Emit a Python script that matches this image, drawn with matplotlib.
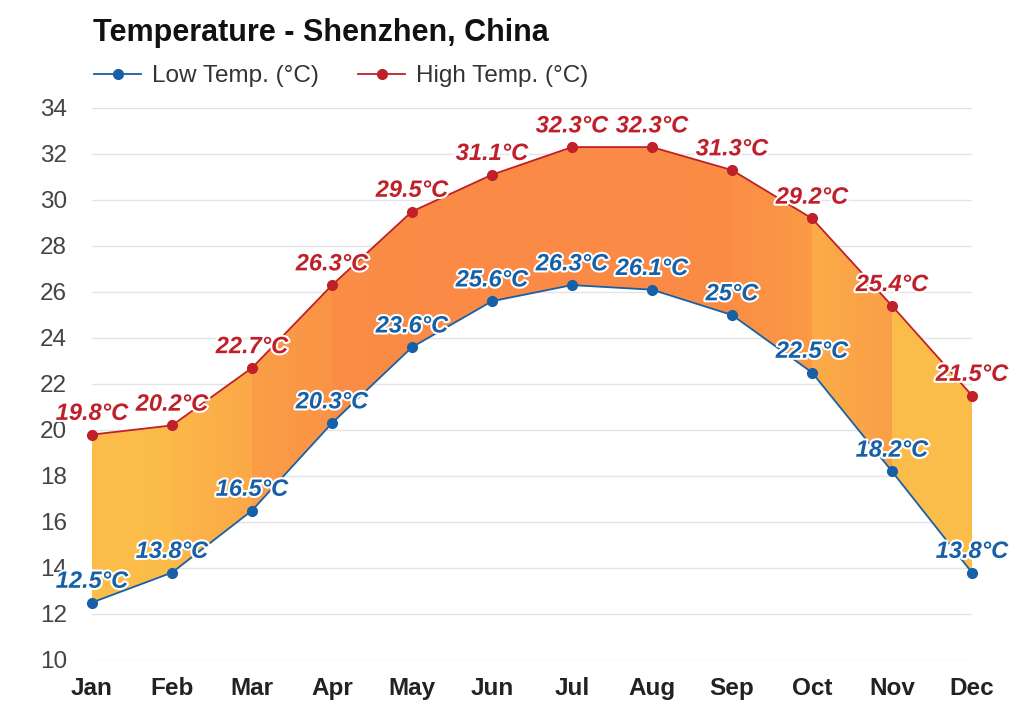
import matplotlib.pyplot as plt
import matplotlib.patheffects as pe
from matplotlib.colors import to_rgb
import numpy as np

# Monthly temperature data
months = ["Jan", "Feb", "Mar", "Apr", "May", "Jun", "Jul", "Aug", "Sep", "Oct", "Nov", "Dec"]
low_temp = [12.5, 13.8, 16.5, 20.3, 23.6, 25.6, 26.3, 26.1, 25.0, 22.5, 18.2, 13.8]
high_temp = [19.8, 20.2, 22.7, 26.3, 29.5, 31.1, 32.3, 32.3, 31.3, 29.2, 25.4, 21.5]
low_labels = ["12.5°C", "13.8°C", "16.5°C", "20.3°C", "23.6°C", "25.6°C",
              "26.3°C", "26.1°C", "25°C", "22.5°C", "18.2°C", "13.8°C"]
high_labels = ["19.8°C", "20.2°C", "22.7°C", "26.3°C", "29.5°C", "31.1°C",
               "32.3°C", "32.3°C", "31.3°C", "29.2°C", "25.4°C", "21.5°C"]

# fill colour for each month-to-month segment (start colour, end colour)
seg_colors = [("#fbbe4a", "#fbbb49"), ("#fbb849", "#fba847"), ("#fa9e47", "#fa9346"),
              ("#fa8d45", "#fa8b45"), ("#fa8b45", "#fa8a45"), ("#fa8a45", "#fa8a45"),
              ("#fa8a45", "#fa8a45"), ("#fa8a45", "#fa8c45"), ("#fa8e45", "#fa9a46"),
              ("#fbac48", "#fa9f47"), ("#fbbe4a", "#fbbd4a")]

low_color = "#1660a8"
high_color = "#c0202a"

plt.rcParams['font.family'] = ['Liberation Sans', 'DejaVu Sans']

fig = plt.figure(figsize=(10.24, 7.17), dpi=100)
ax = fig.add_axes([92 / 1024, 57 / 717, 880 / 1024, 552 / 717])

x = np.arange(len(months))

# band between low and high: one gradient image clipped to the band
band = ax.fill_between(x, low_temp, high_temp, facecolor="none", edgecolor="none")
cols_per_seg = 80
img = []
for c0, c1 in seg_colors:
    a, b = np.array(to_rgb(c0)), np.array(to_rgb(c1))
    t = np.linspace(0, 1, cols_per_seg)[:, None]
    img.append(a + (b - a) * t)
img = np.concatenate(img)[None, :, :]
im = ax.imshow(img, extent=[0, len(months) - 1, 10, 34], aspect="auto",
               interpolation="nearest", zorder=1, origin="lower")
im.set_clip_path(band.get_paths()[0], ax.transData)

ax.plot(x, low_temp, color=low_color, lw=1.3, marker='o', markersize=7,
        label="Low Temp. (°C)", zorder=3, clip_on=False)
ax.plot(x, high_temp, color=high_color, lw=1.3, marker='o', markersize=7,
        label="High Temp. (°C)", zorder=3, clip_on=False)

# value labels
stroke = [pe.withStroke(linewidth=3, foreground="white")]
for xi, v, t in zip(x, low_temp, low_labels):
    ax.annotate(t, (xi, v), xytext=(0, 7), textcoords="offset points",
                ha="center", va="bottom", fontsize=17, fontweight="bold",
                fontstyle="italic", color=low_color, path_effects=stroke,
                zorder=4, annotation_clip=False)
for xi, v, t in zip(x, high_temp, high_labels):
    ax.annotate(t, (xi, v), xytext=(0, 7), textcoords="offset points",
                ha="center", va="bottom", fontsize=17, fontweight="bold",
                fontstyle="italic", color=high_color, path_effects=stroke,
                zorder=4, annotation_clip=False)

ax.set_xlim(0, len(months) - 1)
ax.set_ylim(10, 34)
ax.set_yticks(np.arange(10, 35, 2))
ax.set_xticks(x)
ax.set_xticklabels(months, fontweight="bold", fontsize=17.5, color="#222222")
ax.tick_params(axis="y", labelsize=17.5, labelcolor="#444444", length=0, pad=18)
ax.tick_params(axis="x", length=0, pad=12)

ax.grid(axis="y", color="#e4e4e4", lw=1)
ax.set_axisbelow(True)
for s in ax.spines.values():
    s.set_visible(False)

fig.text(93 / 1024, 1 - 33 / 717, "Temperature - Shenzhen, China",
         fontsize=22, fontweight="bold", va="center", ha="left", color="#111111")

fig.legend(loc="center left", bbox_to_anchor=(72 / 1024, 1 - 76 / 717), ncol=2,
           frameon=False, fontsize=17.5, handlelength=1.95, columnspacing=1.6,
           handletextpad=0.45, labelcolor="#333333")

plt.savefig("out.png", dpi=100)
plt.close()
